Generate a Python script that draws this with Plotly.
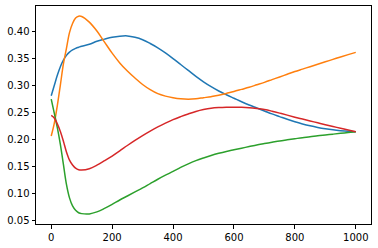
import plotly.graph_objects as go

x_vals = [0, 10, 20, 30, 40, 50, 60, 70, 80, 90, 100,
          125, 150, 175, 200, 225, 250, 275, 300, 325, 350, 375, 400, 425, 450, 475,
          500, 525, 550, 575, 600, 625, 650, 675, 700, 725, 750, 775, 800, 825, 850,
          875, 900, 925, 950, 975, 1000]

blue = [0.280, 0.299, 0.318, 0.334, 0.346, 0.355, 0.361, 0.365, 0.368, 0.370, 0.372,
        0.3755, 0.381, 0.385, 0.3885, 0.3905, 0.391, 0.3885, 0.384, 0.377, 0.369, 0.3595,
        0.349, 0.338, 0.327, 0.316, 0.306, 0.297, 0.289, 0.282, 0.2755, 0.269, 0.263,
        0.2575, 0.252, 0.2465, 0.2415, 0.2365, 0.232, 0.228, 0.2245, 0.2215, 0.219,
        0.217, 0.2155, 0.2143, 0.2135]

orange = [0.2056, 0.229, 0.262, 0.300, 0.339, 0.368, 0.397, 0.414, 0.424, 0.4275, 0.427,
          0.4165, 0.400, 0.3795, 0.359, 0.341, 0.326, 0.313, 0.301, 0.2915, 0.284, 0.2795,
          0.2765, 0.2745, 0.2738, 0.2745, 0.2765, 0.2785, 0.281, 0.2845, 0.288, 0.292,
          0.296, 0.3005, 0.305, 0.310, 0.315, 0.320, 0.325, 0.3295, 0.334, 0.3385, 0.343,
          0.3475, 0.352, 0.3563, 0.3605]

green = [0.274, 0.248, 0.221, 0.190, 0.153, 0.116, 0.091, 0.076, 0.068, 0.0635, 0.0618,
         0.0613, 0.065, 0.0715, 0.079, 0.087, 0.0945, 0.102, 0.1095, 0.1175, 0.1255, 0.133,
         0.140, 0.1475, 0.154, 0.160, 0.165, 0.1695, 0.1735, 0.177, 0.180, 0.183, 0.186,
         0.189, 0.1915, 0.194, 0.1965, 0.1985, 0.2005, 0.2025, 0.204, 0.206, 0.2075,
         0.209, 0.2105, 0.212, 0.2135]

red = [0.244, 0.239, 0.228, 0.214, 0.196, 0.176, 0.161, 0.152, 0.146, 0.143, 0.1425,
       0.145, 0.1515, 0.1598, 0.1685, 0.178, 0.188, 0.1975, 0.2065, 0.2148, 0.2225, 0.2295,
       0.236, 0.2415, 0.2465, 0.251, 0.2545, 0.257, 0.2582, 0.2588, 0.259, 0.2588, 0.258,
       0.2565, 0.2545, 0.2515, 0.248, 0.2443, 0.2405, 0.237, 0.2335, 0.230, 0.2265,
       0.2232, 0.220, 0.2168, 0.2135]

series = [("blue", blue, "#1f77b4"), ("orange", orange, "#ff7f0e"),
          ("green", green, "#2ca02c"), ("red", red, "#d62728")]

x_ticks = [0, 200, 400, 600, 800, 1000]
y_ticks = [0.05, 0.10, 0.15, 0.20, 0.25, 0.30, 0.35, 0.40]
y_tick_labels = ["0.05", "0.10", "0.15", "0.20", "0.25", "0.30", "0.35", "0.40"]

fig = go.Figure()
for name, ys, col in series:
    fig.add_trace(go.Scatter(x=x_vals, y=ys, mode="lines", name=name,
                             line=dict(color=col, width=1.5, shape="spline", smoothing=1.0),
                             showlegend=False))

axis_common = dict(showgrid=False, zeroline=False, showline=True, mirror=True,
                   linecolor="black", linewidth=1, ticks="outside", ticklen=3.5,
                   tickwidth=0.8, tickcolor="black", automargin=False,
                   tickfont=dict(family="DejaVu Sans", size=10, color="black"))

fig.update_layout(
    width=378, height=248,
    margin=dict(l=36, r=7, t=6, b=24),
    paper_bgcolor="white", plot_bgcolor="white",
    xaxis=dict(range=[-50, 1050], tickvals=x_ticks, ticktext=[str(v) for v in x_ticks],
               **axis_common),
    yaxis=dict(range=[0.0426, 0.4464], tickvals=y_ticks, ticktext=y_tick_labels,
               **axis_common),
)

fig.write_html("out.html", config={"displayModeBar": False},
               post_script="document.body.style.margin='0';document.body.style.padding='0';")
